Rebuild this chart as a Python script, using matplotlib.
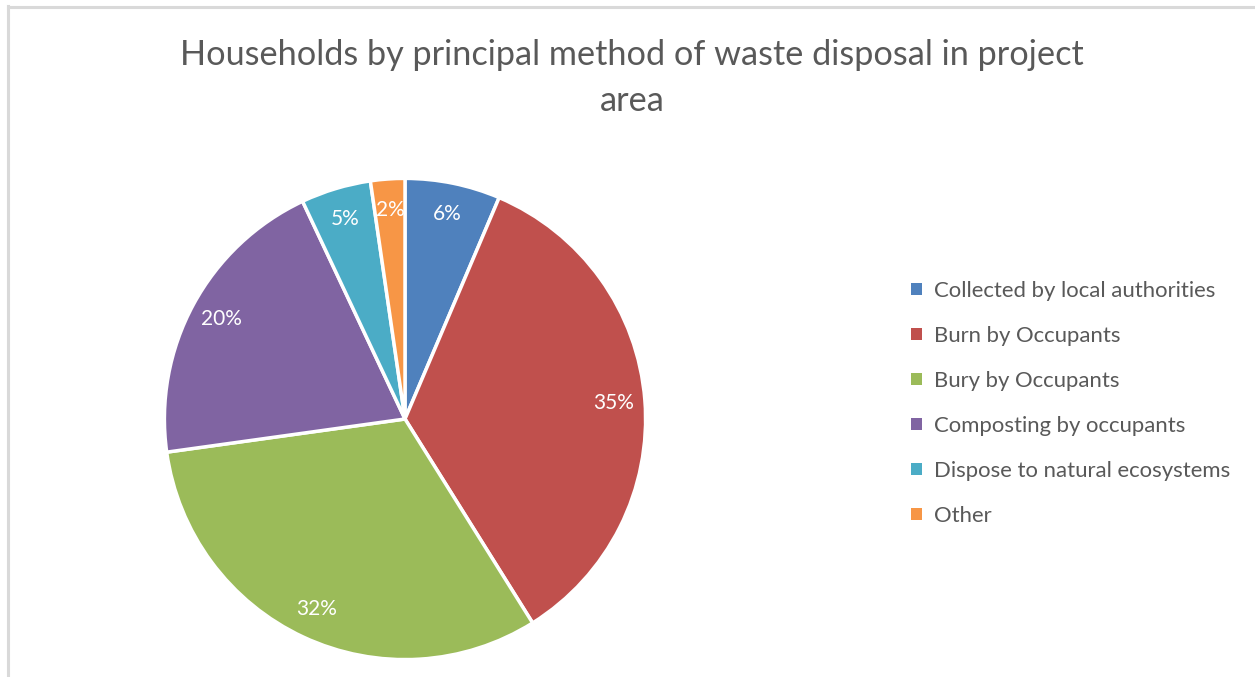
# Pie chart: households by principal method of waste disposal

import matplotlib.pyplot as plt
from matplotlib.lines import Line2D

methods = ["Collected by local authorities", "Burn by Occupants", "Bury by Occupants",
           "Composting by occupants", "Dispose to natural ecosystems", "Other"]
shares = [6.4, 34.7, 31.7, 20.2, 4.7, 2.3]
colors = ["#4F81BD", "#C0504D", "#9BBB59", "#8064A2", "#4BACC6", "#F79646"]

TEXT = "#595959"
plt.rcParams["font.family"] = ["Lato", "DejaVu Sans"]

fig = plt.figure(figsize=(12.55, 6.77), dpi=100)
fig.patch.set_facecolor("white")

# light frame along the top and left edge
fig.add_artist(Line2D([8 / 1255, 8 / 1255], [0, 1 - 6 / 677], color="#d9d9d9", lw=2.2))
fig.add_artist(Line2D([8 / 1255, 1], [1 - 6.5 / 677, 1 - 6.5 / 677], color="#d9d9d9", lw=2.2))

fig.text(0.5036, 1 - 55 / 677, "Households by principal method of waste disposal in project",
         ha="center", va="center", fontsize=24.7, color=TEXT)
fig.text(0.5036, 1 - 101 / 677, "area", ha="center", va="center", fontsize=24.7, color=TEXT)

r = 243
ax = fig.add_axes([(405 - r) / 1255, (677 - 419 - r) / 677, 2 * r / 1255, 2 * r / 677])
wedges, _, autotexts = ax.pie(
    shares, colors=colors, startangle=90, counterclock=False,
    autopct="%.0f%%", pctdistance=0.87,
    wedgeprops={"edgecolor": "white", "linewidth": 2.5},
    textprops={"color": "white", "fontsize": 15},
)
ax.set_xlim(-1.01, 1.01)
ax.set_ylim(-1.01, 1.01)
ax.set_aspect("equal")
ax.axis("off")

leg = fig.legend(wedges, methods, loc="upper left",
                 bbox_to_anchor=(911 / 1255, 1 - 281 / 677),
                 frameon=False, fontsize=15.9, labelcolor=TEXT,
                 handlelength=0.5, handleheight=0.5, handletextpad=0.55,
                 labelspacing=1.13, borderaxespad=0, borderpad=0)
for h in leg.legend_handles:
    h.set_edgecolor("none")

fig.savefig("out.png", dpi=100, facecolor="white")
